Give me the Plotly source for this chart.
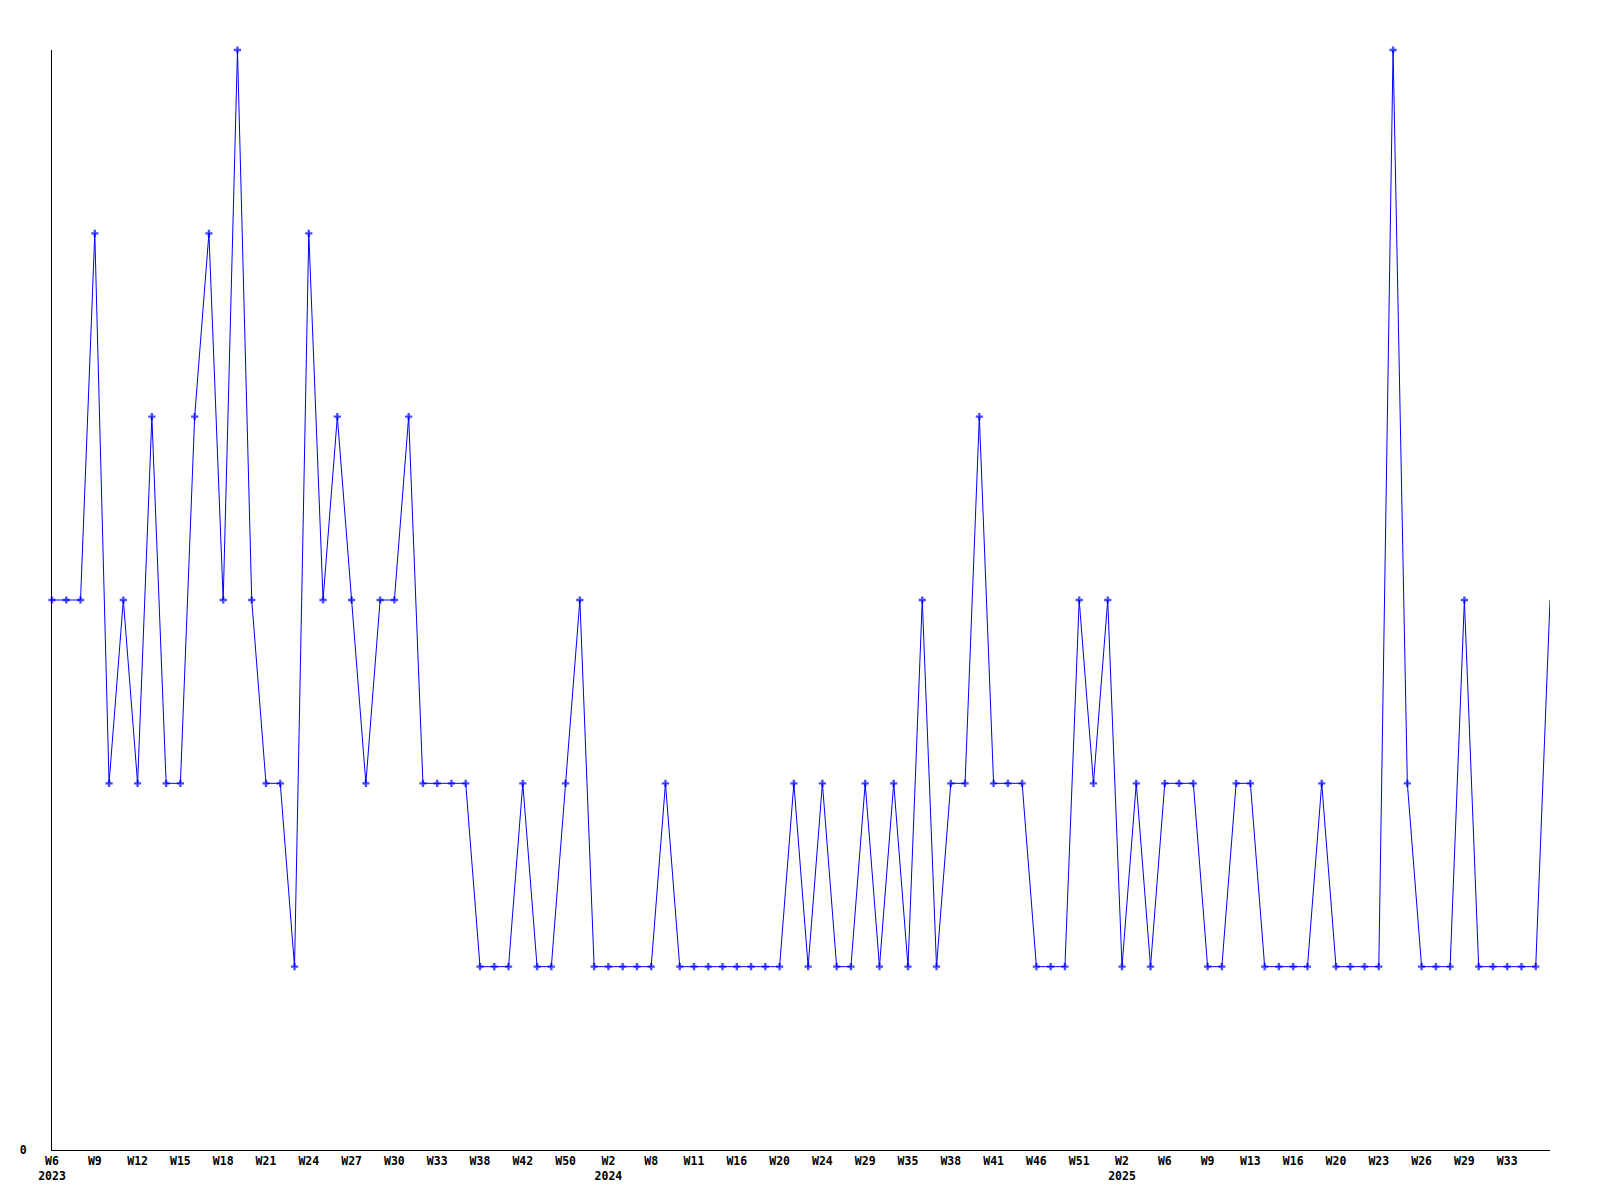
import plotly.graph_objects as go

# Week labels for each data point (ISO weeks with data)
years = [2023] * 39 + [2024] * 35 + [2025] * 32
weeks = [
    # 2023
    6, 7, 8, 9, 10, 11, 12, 13, 14, 15, 16, 17, 18, 19, 20, 21, 22, 23, 24, 25,
    26, 27, 28, 29, 30, 31, 32, 33, 34, 36, 38, 39, 41, 42, 44, 47, 50, 51, 52,
    # 2024
    2, 4, 6, 8, 9, 10, 11, 13, 15, 16, 17, 19, 20, 21, 22, 24, 26, 27, 29, 31,
    33, 35, 36, 37, 38, 39, 40, 41, 43, 44, 46, 48, 49, 51, 52,
    # 2025
    1, 2, 3, 5, 6, 7, 8, 9, 11, 12, 13, 14, 15, 16, 18, 19, 20, 21, 22, 23,
    24, 25, 26, 27, 28, 29, 30, 31, 33, 34, 35, 36,
]
values = [
    3, 3, 3, 5, 2, 3, 2, 4, 2, 2, 4, 5, 3, 6, 3, 2, 2, 1, 5, 3,
    4, 3, 2, 3, 3, 4, 2, 2, 2, 2, 1, 1, 1, 2, 1, 1, 2, 3, 1,
    1, 1, 1, 1, 2, 1, 1, 1, 1, 1, 1, 1, 1, 2, 1, 2, 1, 1, 2, 1,
    2, 1, 3, 1, 2, 2, 4, 2, 2, 2, 1, 1, 1, 3, 2,
    3, 1, 2, 1, 2, 2, 2, 1, 1, 2, 2, 1, 1, 1, 1, 2, 1, 1, 1, 1,
    6, 2, 1, 1, 1, 3, 1, 1, 1, 1, 1, 3,
]

n = len(values)
x = list(range(n))

# Tick labels every third point (last point unlabeled); first label of each year shows the year
tickvals = []
ticktext = []
for i in range(0, n - 1, 3):
    tickvals.append(i)
    ticktext.append(f"W{weeks[i]}")
seen_years = set()
for i in range(n):
    if years[i] not in seen_years:
        seen_years.add(years[i])
        for k, tv in enumerate(tickvals):
            if tv >= i:
                ticktext[k] = ticktext[k] + f"<br>{years[i]}"
                break

marker_sizes = [6] * (n - 1) + [0]

fig = go.Figure()
fig.add_trace(go.Scatter(
    x=x, y=values,
    mode="lines+markers",
    line=dict(color="#0000ff", width=1),
    marker=dict(symbol="cross", size=marker_sizes, color="#0000ff",
                line=dict(width=0)),
    cliponaxis=False,
    hoverinfo="skip",
))

font = dict(family="DejaVu Sans Mono", size=11.5, color="black", weight="bold")

fig.update_layout(
    width=1600, height=1200,
    margin=dict(l=42, r=58, t=42, b=58),
    paper_bgcolor="white", plot_bgcolor="white",
    showlegend=False,
    xaxis=dict(
        range=[0, n - 1],
        tickmode="array", tickvals=tickvals, ticktext=ticktext,
        showgrid=False, zeroline=False,
        showline=True, linecolor="black", linewidth=1,
        ticks="", tickfont=font,
    ),
    yaxis=dict(
        range=[0, 6],
        tickmode="array", tickvals=[0], ticktext=["0"],
        showgrid=False, zeroline=False,
        showline=True, linecolor="black", linewidth=1,
        ticks="", tickfont=font, ticklabelstandoff=22,
    ),
)

fig.write_html("out.html")
